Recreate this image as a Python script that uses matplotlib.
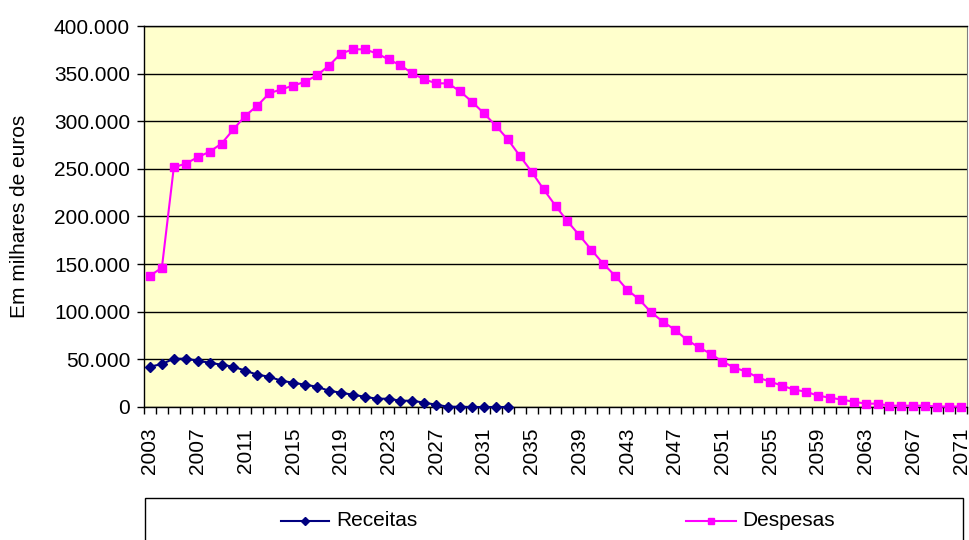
import matplotlib
matplotlib.use("Agg")
import matplotlib.pyplot as plt
from matplotlib.lines import Line2D
from matplotlib.patches import Rectangle
from matplotlib.ticker import FuncFormatter, MultipleLocator, FixedLocator

plt.rcParams['font.family'] = ['Liberation Sans', 'DejaVu Sans']

# Values in thousands of euros (em milhares de euros)
years = list(range(2003, 2072))
receitas = [42.3, 45.1, 50.7, 50.7, 48.6, 46.5, 44.4, 42.3, 38.1, 33.9,
            31.8, 27.6, 25.5, 23.4, 21.3, 17.1, 15.0, 12.9, 10.8, 8.7,
            8.7, 6.6, 6.6, 4.5, 2.4, 0.3, 0.3, 0.0, 0.0, 0.0, 0.0]
despesas = [137.8, 146.2, 251.7, 255.5, 262.2, 268.0, 276.5, 291.5, 305.8, 316.3,
            329.3, 333.5, 337.3, 341.5, 348.2, 358.3, 370.9, 375.5, 375.5, 371.3,
            365.0, 358.7, 350.3, 344.0, 339.8, 339.8, 331.4, 320.5, 308.3, 295.3,
            281.0, 263.8, 247.0, 228.6, 211.3, 195.0, 180.3, 165.1, 150.4, 137.8,
            123.2, 113.1, 99.7, 89.6, 81.2, 70.7, 62.7, 56.0, 47.6, 41.3,
            37.1, 30.8, 26.6, 22.4, 18.2, 16.1, 11.9, 9.8, 7.7, 5.6,
            3.5, 3.5, 1.4, 1.4, 1.4, 1.4, 0.5, 0.5, 0.5]
label_years = list(range(2003, 2072, 4))

NAVY = '#000080'
MAGENTA = '#FF00FF'
W, H = 969, 540

fig = plt.figure(figsize=(W / 100, H / 100), dpi=100)
ax = fig.add_axes([144 / W, 133 / H, 823 / W, 381 / H])
ax.set_facecolor('#FFFFCC')

x_rec = list(range(len(receitas)))
x_des = list(range(len(despesas)))
rec_vals = [v * 1000 for v in receitas]
des_vals = [v * 1000 for v in despesas]

ax.plot(x_rec, rec_vals, color=NAVY, lw=1.5, marker='D', ms=5.5,
        markerfacecolor=NAVY, markeredgecolor=NAVY, zorder=3, clip_on=False)
ax.plot(x_des, des_vals, color=MAGENTA, lw=1.5, marker='s', ms=5.5,
        markerfacecolor=MAGENTA, markeredgecolor=MAGENTA, zorder=3, clip_on=False)

ax.set_xlim(-0.5, len(years) - 0.5)
ax.set_ylim(0, 400000)

# y axis
ax.yaxis.set_major_locator(MultipleLocator(50000))
ax.yaxis.set_major_formatter(FuncFormatter(lambda v, p: f"{v:,.0f}".replace(",", ".")))
ax.grid(axis='y', color='black', lw=1)
ax.set_axisbelow(True)
ax.tick_params(axis='y', direction='out', length=5, width=1, pad=5, labelsize=15)
ax.set_ylabel('Em milhares de euros', fontsize=15, labelpad=18)

# x axis: labels every 4 years, ticks between categories
ax.xaxis.set_major_locator(FixedLocator([years.index(y) for y in label_years]))
ax.set_xticklabels([str(y) for y in label_years], rotation=90, fontsize=15)
ax.xaxis.set_minor_locator(FixedLocator([i - 0.5 for i in range(len(years) + 1)]))
ax.tick_params(axis='x', which='major', length=0, pad=15)
ax.tick_params(axis='x', which='minor', direction='out', length=5, width=1)

for s in ['left', 'bottom', 'top']:
    ax.spines[s].set_color('black')
    ax.spines[s].set_linewidth(1)
ax.spines['right'].set_color('#808080')
ax.spines['right'].set_linewidth(0.8)

# legend box, as in the original spreadsheet chart
fig.patches.append(Rectangle((145 / W, -0.1), (963 - 145) / W, 0.1 + 42 / H,
                             transform=fig.transFigure, facecolor='white',
                             edgecolor='black', lw=1))
ly = (H - 521) / H
fig.lines.append(Line2D([281 / W, 329 / W], [ly, ly], transform=fig.transFigure,
                        color=NAVY, lw=1.5))
fig.lines.append(Line2D([305 / W], [ly], transform=fig.transFigure, color=NAVY,
                        marker='D', ms=4.5, lw=0))
fig.text(336 / W, ly, 'Receitas', fontsize=15, va='center', ha='left')
fig.lines.append(Line2D([686 / W, 736 / W], [ly, ly], transform=fig.transFigure,
                        color=MAGENTA, lw=1.5))
fig.lines.append(Line2D([711 / W], [ly], transform=fig.transFigure, color=MAGENTA,
                        marker='s', ms=4.5, lw=0))
fig.text(742 / W, ly, 'Despesas', fontsize=15, va='center', ha='left')

fig.savefig('out.png', dpi=100)
